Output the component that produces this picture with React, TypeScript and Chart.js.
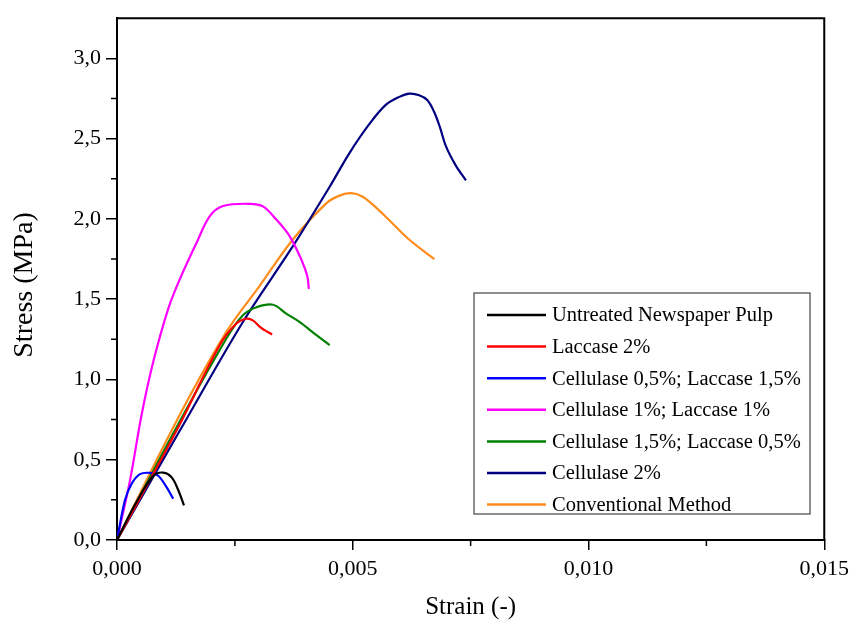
import React, { useEffect, useRef } from 'react';
import { Chart, registerables } from 'chart.js';

Chart.register(...registerables);

const seriesLabels = [
  'Untreated Newspaper Pulp',
  'Laccase 2%',
  'Cellulase 0,5%; Laccase 1,5%',
  'Cellulase 1%; Laccase 1%',
  'Cellulase 1,5%; Laccase 0,5%',
  'Cellulase 2%',
  'Conventional Method',
];
const seriesColors = ['#000000', '#ff0000', '#0000ff', '#ff00ff', '#008000', '#000080', '#ff8c1a'];

const untreatedStrain = [0, 0.0004, 0.00077, 0.00098, 0.00116, 0.0013, 0.00142];
const untreatedStress = [0, 0.23, 0.4, 0.42, 0.39, 0.31, 0.216];

const laccaseStrain = [0, 0.00126, 0.00218, 0.00253, 0.00274, 0.00288, 0.00303, 0.00313, 0.00329];
const laccaseStress = [0, 0.68, 1.214, 1.348, 1.378, 1.368, 1.327, 1.307, 1.28];

const c05l15Strain = [0, 0.000169, 0.00031, 0.000487, 0.000698, 0.000874, 0.001051, 0.001192];
const c05l15Stress = [0, 0.247, 0.35, 0.41, 0.418, 0.4, 0.329, 0.257];

const c1l1Strain = [0, 0.000275, 0.000522, 0.000769, 0.001086, 0.001333, 0.001686, 0.001968, 0.00225, 0.002814, 0.003096, 0.003378, 0.00366, 0.003907, 0.004034, 0.004069];
const c1l1Stress = [0, 0.37, 0.78, 1.11, 1.44, 1.625, 1.85, 2.017, 2.08, 2.094, 2.078, 1.996, 1.893, 1.749, 1.646, 1.564];

const c15l05Strain = [0, 0.00126, 0.00232, 0.00267, 0.00296, 0.00331, 0.00359, 0.00387, 0.00423, 0.00451];
const c15l05Stress = [0, 0.7, 1.255, 1.4, 1.45, 1.465, 1.41, 1.358, 1.276, 1.214];

const c2Strain = [0, 0.00133, 0.00267, 0.00373, 0.00451, 0.00493, 0.00535, 0.0057, 0.00599, 0.0062, 0.00641, 0.00658, 0.00672, 0.00685, 0.00698, 0.00719, 0.0074];
const c2Stress = [0, 0.68, 1.358, 1.83, 2.2, 2.41, 2.59, 2.71, 2.76, 2.78, 2.77, 2.74, 2.67, 2.57, 2.45, 2.33, 2.24];

const convStrain = [0, 0.00126, 0.00232, 0.00303, 0.00373, 0.00445, 0.00472, 0.00497, 0.0052, 0.00542, 0.00578, 0.0062, 0.00673];
const convStress = [0, 0.74, 1.296, 1.585, 1.872, 2.1, 2.145, 2.16, 2.14, 2.09, 1.99, 1.87, 1.75];

const xMajorTicks = [0, 0.005, 0.01, 0.015];
const xMinorTicks = [0.0025, 0.0075, 0.0125];
const yMajorTicks = [0, 0.5, 1.0, 1.5, 2.0, 2.5, 3.0];
const yMinorTicks = [0.25, 0.75, 1.25, 1.75, 2.25, 2.75];

const xTitle = 'Strain (-)';
const yTitle = 'Stress (MPa)';

const FONT = "'Liberation Serif', 'Times New Roman', serif";

const allSeries = [
  [untreatedStrain, untreatedStress],
  [laccaseStrain, laccaseStress],
  [c05l15Strain, c05l15Stress],
  [c1l1Strain, c1l1Stress],
  [c15l05Strain, c15l05Stress],
  [c2Strain, c2Stress],
  [convStrain, convStress],
];

const decorPlugin = {
  id: 'decor',
  afterDraw(chart: any) {
    const ctx = chart.ctx;
    const { left, right, top, bottom } = chart.chartArea;
    const xs = chart.scales.x;
    const ys = chart.scales.y;
    ctx.save();
    ctx.strokeStyle = '#000';
    ctx.lineWidth = 1.5;
    ctx.beginPath();
    xMinorTicks.forEach((v) => {
      const px = xs.getPixelForValue(v);
      ctx.moveTo(px, bottom);
      ctx.lineTo(px, bottom + 6);
    });
    yMinorTicks.forEach((v) => {
      const py = ys.getPixelForValue(v);
      ctx.moveTo(left, py);
      ctx.lineTo(left - 6, py);
    });
    ctx.stroke();
    // frame top & right
    ctx.lineWidth = 2;
    ctx.beginPath();
    ctx.moveTo(left, top);
    ctx.lineTo(right, top);
    ctx.lineTo(right, bottom);
    ctx.stroke();

    // axis titles
    ctx.fillStyle = '#000';
    ctx.textAlign = 'center';
    ctx.textBaseline = 'middle';
    ctx.font = `25px ${FONT}`;
    ctx.fillText(xTitle, (left + right) / 2, 607);
    ctx.save();
    ctx.translate(25, 285);
    ctx.rotate(-Math.PI / 2);
    ctx.font = `28px ${FONT}`;
    ctx.fillText(yTitle, 0, 0);
    ctx.restore();

    // legend
    const bx = 474, by = 293, bw = 336, bh = 221;
    ctx.fillStyle = '#fff';
    ctx.fillRect(bx, by, bw, bh);
    ctx.strokeStyle = '#444';
    ctx.lineWidth = 1.2;
    ctx.strokeRect(bx, by, bw, bh);
    ctx.font = `20.5px ${FONT}`;
    ctx.textBaseline = 'middle';
    ctx.textAlign = 'left';
    chart.data.datasets.forEach((ds: any, i: number) => {
      const y = by + 22 + i * 31.6;
      ctx.strokeStyle = ds.borderColor;
      ctx.lineWidth = 2.5;
      ctx.beginPath();
      ctx.moveTo(487, y);
      ctx.lineTo(546, y);
      ctx.stroke();
      ctx.fillStyle = '#000';
      ctx.fillText(ds.label, 552, y + 1);
    });
    ctx.restore();
  },
};

export default function App() {
  const ref = useRef<HTMLCanvasElement | null>(null);
  useEffect(() => {
    if (!ref.current) return;
    const chart = new Chart(ref.current, {
      type: 'line',
      data: {
        datasets: allSeries.map(([xs, ys], i) => ({
          label: seriesLabels[i],
          data: xs.map((x, j) => ({ x, y: ys[j] })),
          borderColor: seriesColors[i],
          backgroundColor: seriesColors[i],
          borderWidth: 2.2,
          pointRadius: 0,
          tension: 0.35,
          fill: false,
        })),
      },
      options: {
        animation: false,
        responsive: false,
        layout: { padding: { top: 14, right: 29, left: 0, bottom: 0 } },
        plugins: { legend: { display: false }, tooltip: { enabled: false } },
        scales: {
          x: {
            type: 'linear',
            min: 0,
            max: 0.015,
            afterBuildTicks: (s: any) => {
              s.ticks = xMajorTicks.map((value) => ({ value }));
            },
            afterFit: (s: any) => {
              s.height = 80;
            },
            ticks: {
              callback: (v: any) => Number(v).toFixed(3).replace('.', ','),
              font: { family: FONT, size: 22 },
              color: '#000',
              padding: 6,
              maxRotation: 0,
            },
            grid: { drawOnChartArea: false, drawTicks: true, tickLength: 10, color: '#000', lineWidth: 1.5 },
            border: { display: true, color: '#000', width: 2 },
            title: { display: false },
          },
          y: {
            type: 'linear',
            min: 0,
            max: 3.25,
            afterBuildTicks: (s: any) => {
              s.ticks = yMajorTicks.map((value) => ({ value }));
            },
            afterFit: (s: any) => {
              s.width = 117;
            },
            ticks: {
              callback: (v: any) => Number(v).toFixed(1).replace('.', ','),
              font: { family: FONT, size: 22 },
              color: '#000',
              padding: 5,
            },
            grid: { drawOnChartArea: false, drawTicks: true, tickLength: 11, color: '#000', lineWidth: 1.5 },
            border: { display: true, color: '#000', width: 2 },
            title: { display: false },
          },
        },
      },
      plugins: [decorPlugin],
    } as any);
    return () => chart.destroy();
  }, []);
  return (
    <div style={{ position: 'absolute', left: 0, top: 0, width: 855, height: 620, background: '#fff' }}>
      <canvas ref={ref} width={855} height={620} />
    </div>
  );
}
